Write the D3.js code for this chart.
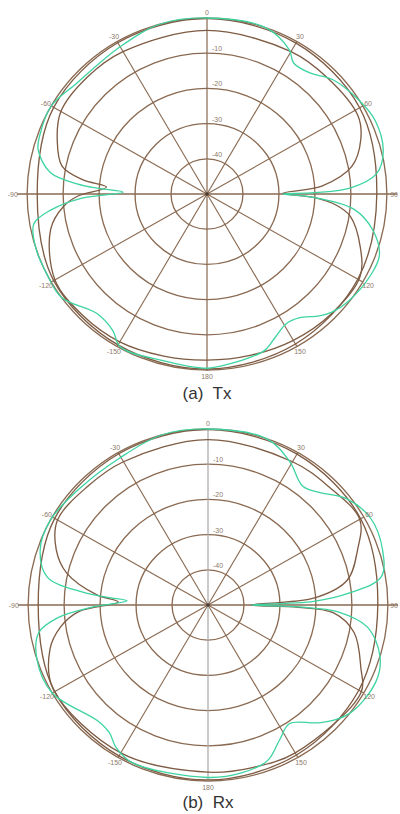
<!DOCTYPE html>
<html>
<head>
<meta charset="utf-8">
<script src="https://cdn.jsdelivr.net/npm/d3@7"></script>
<style>
  body { margin: 0; background: #fff; }
  svg { display: block; }
</style>
</head>
<body>
<div class="chart"></div>
<script>
// grid values
const ringLevels = [-40, -30, -20, -10, 0];
const ringLabels = ["-40", "-30", "-20", "-10"];
const spokeAngles = [-150, -120, -90, -60, -30, 0, 30, 60, 90, 120, 150, 180];
const spokeLabels = ["-150", "-120", "-90", "-60", "-30", "0", "30", "60", "90", "120", "150", "180"];

// [angle in degrees, level in dB]
const txRound = [[-180, -0.3], [-150, -0.5], [-120, -0.8], [-90, -2.8], [-60, -0.8], [-30, -0.4],
  [0, -0.2], [30, -0.5], [60, -1], [90, -2.8], [120, -1.6], [150, -0.8]];
const txBrown = [[-180, -2.8], [-165, -2.4], [-150, -1.5], [-135, -1.2], [-120, -1.2], [-103, -5.4],
  [-95, -10], [-91, -14], [-86, -22], [-83.4, -15.3], [-79, -9], [-70, -5.7], [-60, -3.1], [-45, -3],
  [-30, -3.3], [0, -3.5], [30, -3.3], [45, -3], [62, -2.5], [70, -4.5], [79, -9], [86, -18],
  [89.5, -29], [92, -20], [95, -14], [99, -9.7], [109.5, -4.8], [119, -1.4], [135, -1.5],
  [150, -2], [165, -2.6]];
const txGreen = [[-180, -0.5], [-165, -1.1], [-151, -0.3], [-146, -3.2], [-138, -4.3], [-126, 0],
  [-117, 0], [-108, 0], [-100, -1.1], [-96, -6.3], [-92, -15], [-88.8, -26.7], [-87, -20],
  [-85.5, -14], [-82, -6], [-75, -1.4], [-70, -0.6], [-60, 0], [-49, -2], [-30, -1.7], [-15, 0],
  [0, 0], [19, 0], [29, -3], [33, -5.7], [40, -5.2], [47, -2.3], [58, 0], [66, 1.2], [76, 0.5],
  [83, -2.5], [87.5, -10], [89.3, -20], [90, -29], [91.7, -21], [96, -9], [102.5, -2.8],
  [110, 1], [117, 1], [128, -0.3], [134, -1.7], [138, -3.4], [144, -6.5], [149, -7.1],
  [155, -5.1], [160, -2.8], [166, -2], [172, -1.4]];

const rxRound = [[-180, -0.3], [-150, -0.5], [-120, -0.8], [-90, -2.8], [-60, -0.8], [-30, -0.4],
  [0, -0.2], [30, -0.5], [60, -1], [90, -2.8], [120, -1.6], [150, -0.8]];
const rxBrown = [[-180, -2.5], [-150, -1.5], [-119, -0.8], [-106, -4.3], [-98.7, -8.5], [-93, -14],
  [-88, -25], [-84.7, -19], [-77, -9.7], [-69.6, -5], [-60, -1.7], [-45, -2.5], [-30, -3],
  [0, -3], [30, -3], [45, -2.5], [60, -1.3], [69.4, -5.6], [79.6, -10.6], [86, -20], [90, -38],
  [91.5, -25], [93.7, -15], [101, -8.6], [112.6, -4], [120.6, -0.7], [150, -1.5], [165, -2.2]];
const rxGreen = [[-180, -1], [-155, -0.5], [-147.6, -2.2], [-143, -4.5], [-137, -5], [-120, 0],
  [-108, 0], [-99.5, -2.3], [-95, -8], [-91, -18], [-87, -27.5], [-85.5, -22], [-84, -15],
  [-80, -4.7], [-71.5, -0.8], [-61, 0], [-46, -1.4], [-31, -1.6], [-15, 0], [0, 0], [19, 0],
  [29, -3.3], [38, -7.2], [44, -5.5], [52, -1], [61.5, 1.5], [72, 1], [80.6, -1.2], [85, -10.5],
  [88, -20.6], [90, -38], [90.8, -30], [91.8, -20], [93, -14], [98, -5.3], [107, 0], [115, 1.5],
  [128, 0], [137, -4.3], [146, -9.4], [152.6, -6.8], [159.5, -2.8], [169, -1.4]];

const width = 400;
const height = 814;
const R = 176;
const sx = 1.022; // picture is a little wider than tall

const gridColor = "#8a6a52";
const curveBrown = "#7e5b43";
const curveGreen = "#3ed4a2";
const labelColor = "#8c7a6a";

const r = d3.scaleLinear().domain([-50, 0]).range([0, R]);
const rad = d => d * Math.PI / 180;

const line = d3.lineRadial()
  .angle(d => rad(d[0]))
  .radius(d => r(d[1]))
  .curve(d3.curveCatmullRomClosed.alpha(0.5));

const panels = [
  { cx: 207, cy: 194, caption: "(a)  Tx", capY: 399, vAxis: gridColor,
    round: txRound, brown: txBrown, green: txGreen },
  { cx: 208, cy: 605, caption: "(b)  Rx", capY: 808, vAxis: "#a8a8a8",
    round: rxRound, brown: rxBrown, green: rxGreen }
];

const svg = d3.select(".chart").append("svg")
  .attr("width", width)
  .attr("height", height);

panels.forEach(p => {
  const g = svg.append("g")
    .attr("transform", `translate(${p.cx},${p.cy}) scale(${sx},1)`);

  g.selectAll("circle.ring")
    .data(ringLevels)
    .join("circle")
    .attr("class", "ring")
    .attr("r", d => r(d))
    .attr("fill", "none")
    .attr("stroke", gridColor)
    .attr("stroke-width", 1.3);

  // spokes every 30 degrees, the axes drawn apart
  g.selectAll("line.spoke")
    .data(spokeAngles.filter(a => a % 90 !== 0))
    .join("line")
    .attr("class", "spoke")
    .attr("x1", 0).attr("y1", 0)
    .attr("x2", d => R * Math.sin(rad(d)))
    .attr("y2", d => -R * Math.cos(rad(d)))
    .attr("stroke", gridColor)
    .attr("stroke-width", 1.1);

  g.append("line")
    .attr("x1", -R - 10).attr("x2", R + 10)
    .attr("y1", 0).attr("y2", 0)
    .attr("stroke", gridColor)
    .attr("stroke-width", 1.3);

  g.append("line")
    .attr("x1", 0).attr("x2", 0)
    .attr("y1", -R - 1).attr("y2", R + 1)
    .attr("stroke", p.vAxis)
    .attr("stroke-width", 1.2);

  // measured patterns
  [p.round, p.brown].forEach(d => {
    g.append("path")
      .datum(d)
      .attr("d", line)
      .attr("fill", "none")
      .attr("stroke", curveBrown)
      .attr("stroke-width", 1.3);
  });

  g.append("path")
    .datum(p.green)
    .attr("d", line)
    .attr("fill", "none")
    .attr("stroke", curveGreen)
    .attr("stroke-width", 1.3);

  g.append("circle")
    .attr("r", 1.8)
    .attr("fill", "#4a3a2e");

  // labels (not stretched)
  const t = svg.append("g")
    .attr("transform", `translate(${p.cx},${p.cy})`)
    .style("font-family", "'Liberation Sans', Arial, sans-serif")
    .style("font-size", "7px")
    .attr("fill", labelColor);

  t.selectAll("text.ang")
    .data(spokeAngles.map((a, i) => ({ a, label: spokeLabels[i] })))
    .join("text")
    .attr("class", "ang")
    .attr("text-anchor", d => d.a === 90 ? "end" : "middle")
    .attr("x", d => {
      if (d.a === 90) return width - 2 - p.cx;
      const rr = d.a === -90 ? R + 14 : R + 6;
      return rr * Math.sin(rad(d.a)) * sx;
    })
    .attr("y", d => {
      const rr = Math.abs(d.a) === 90 ? R + 14 : R + 6;
      return -rr * Math.cos(rad(d.a)) + 2.5;
    })
    .text(d => d.label);

  t.selectAll("text.ring")
    .data(ringLevels.slice(0, 4))
    .join("text")
    .attr("class", "ring")
    .attr("x", 5)
    .attr("y", d => -r(d) - 2)
    .text((d, i) => ringLabels[i]);

  svg.append("text")
    .attr("x", p.cx)
    .attr("y", p.capY)
    .attr("text-anchor", "middle")
    .style("white-space", "pre")
    .style("font-family", "'Liberation Sans', Arial, sans-serif")
    .style("font-size", "17px")
    .attr("fill", "#333")
    .text(p.caption);
});
</script>
</body>
</html>
